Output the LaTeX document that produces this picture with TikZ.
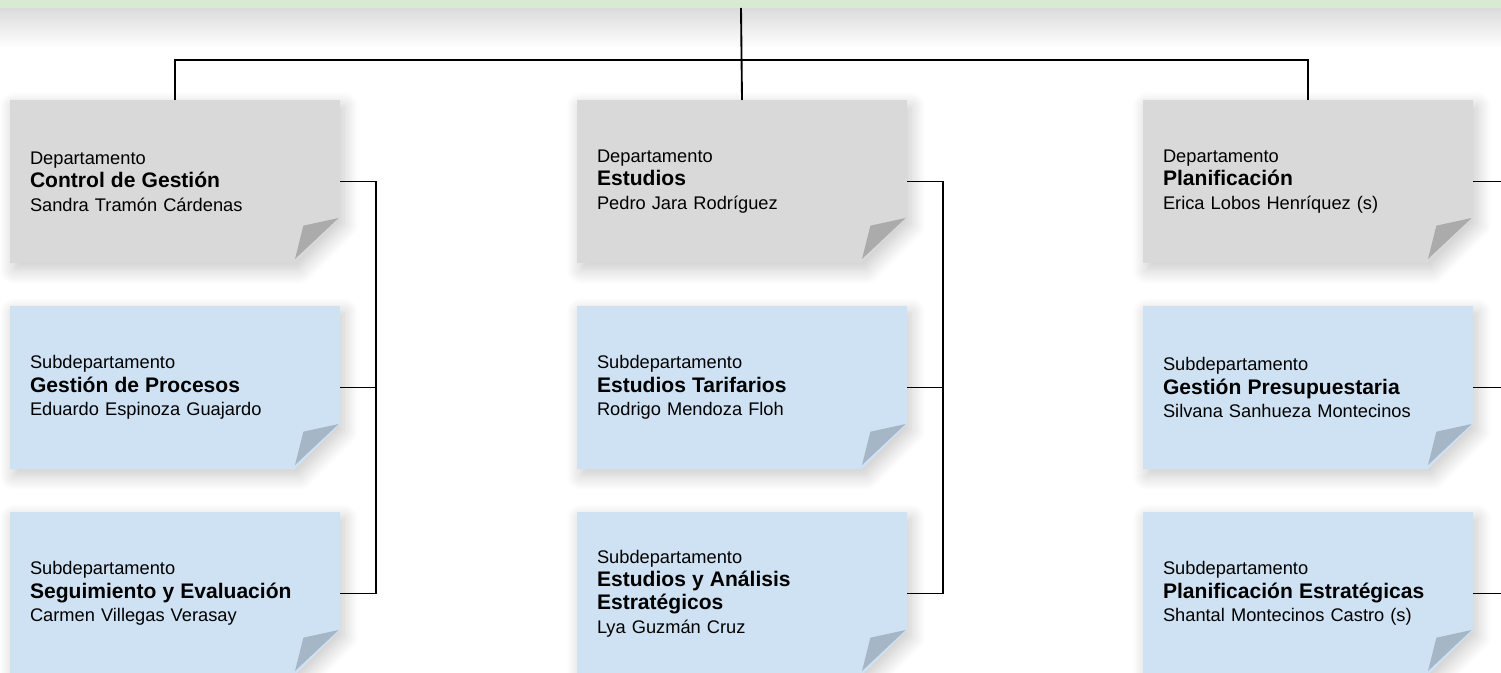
\documentclass[tikz,border=0pt]{standalone}
\usepackage{fontspec}
\setmainfont{Liberation Sans}
\usetikzlibrary{backgrounds,shadows.blur}

\definecolor{gris}{HTML}{D9D9D9}
\definecolor{grisdoblez}{HTML}{ABABAB}
\definecolor{celeste}{HTML}{CFE2F3}
\definecolor{celestedoblez}{HTML}{A5B6C7}
\definecolor{verde}{HTML}{D9EAD3}

\newcommand{\unidad}[1]{{\fontsize{15.8}{18}\selectfont\bfseries #1}}

\tikzset{
  hoja/.style={anchor=north west, align=left, text width=217.5pt,
    inner xsep=15pt, inner ysep=0pt, outer sep=0pt,
    minimum height=122.25pt, font=\fontsize{13.7}{17.6}\selectfont},
  conector/.style={line width=1.4pt, black},
  sombra/.style={blur shadow={shadow xshift=3pt, shadow yshift=-5pt,
    shadow blur radius=11pt, shadow blur steps=14, shadow opacity=22}}
}

\begin{document}
\begin{tikzpicture}[x=0.75pt,y=-0.75pt]
  \useasboundingbox (0,0) rectangle (1501,673);
  % franja superior
  \shade[top color=black!14, bottom color=white] (0,8) rectangle (1501,48);
  \fill[verde] (0,0) rectangle (1501,8);
  \coordinate (raiz) at (741,8);
  \coordinate (barra) at (741,60);
  \coordinate (borde) at (1501,0);

  % departamentos
  \node[hoja] (cg) at (10,100) {Departamento\\\unidad{Control de Gestión}\\Sandra Tramón Cárdenas};
  \node[hoja] (es) at (577,100) {Departamento\\\unidad{Estudios}\\Pedro Jara Rodríguez};
  \node[hoja] (pl) at (1143,100) {Departamento\\\unidad{Planificación}\\Erica Lobos Henríquez (s)};

  % subdepartamentos
  \node[hoja] (gp) at (10,306) {Subdepartamento\\\unidad{Gestión de Procesos}\\Eduardo Espinoza Guajardo};
  \node[hoja] (se) at (10,512) {Subdepartamento\\\unidad{Seguimiento y Evaluación}\\Carmen Villegas Verasay};
  \node[hoja] (et) at (577,306) {Subdepartamento\\\unidad{Estudios Tarifarios}\\Rodrigo Mendoza Floh};
  \node[hoja] (ea) at (577,512) {Subdepartamento\\\unidad{Estudios y Análisis}\\\unidad{Estratégicos}\\Lya Guzmán Cruz};
  \node[hoja] (ge) at (1143,306) {Subdepartamento\\\unidad{Gestión Presupuestaria}\\Silvana Sanhueza Montecinos};
  \node[hoja] (pe) at (1143,512) {Subdepartamento\\\unidad{Planificación Estratégicas}\\Shantal Montecinos Castro (s)};

  % hojas con esquina doblada
  \begin{pgfonlayer}{background}
    \foreach \n/\relleno/\doblez in {cg/gris/grisdoblez, es/gris/grisdoblez, pl/gris/grisdoblez,
        gp/celeste/celestedoblez, se/celeste/celestedoblez, et/celeste/celestedoblez,
        ea/celeste/celestedoblez, ge/celeste/celestedoblez, pe/celeste/celestedoblez} {
      \fill[\relleno, sombra] (\n.north west) -- (\n.north east) -- ([yshift=33.75pt]\n.south east)
        -- ([xshift=-33.75pt]\n.south east) -- (\n.south west) -- cycle;
      \fill[\doblez] ([xshift=-1pt, yshift=33.75pt]\n.south east) -- ([xshift=-27.5pt, yshift=28pt]\n.south east)
        -- ([xshift=-33.75pt, yshift=3pt]\n.south east) -- cycle;
    }
  \end{pgfonlayer}

  % conectores
  \draw[conector] (raiz) -- (es.north);
  \draw[conector] (cg.north) |- (barra) -| (pl.north);
  \draw[conector] (cg.east) -- ++(36,0) |- (se.east);
  \draw[conector] (gp.east) -- ++(36,0);
  \draw[conector] (es.east) -- ++(36,0) |- (ea.east);
  \draw[conector] (et.east) -- ++(36,0);
  \draw[conector] (pl.east) -- (pl.east -| borde);
  \draw[conector] (ge.east) -- (ge.east -| borde);
  \draw[conector] (pe.east) -- (pe.east -| borde);
\end{tikzpicture}
\end{document}
